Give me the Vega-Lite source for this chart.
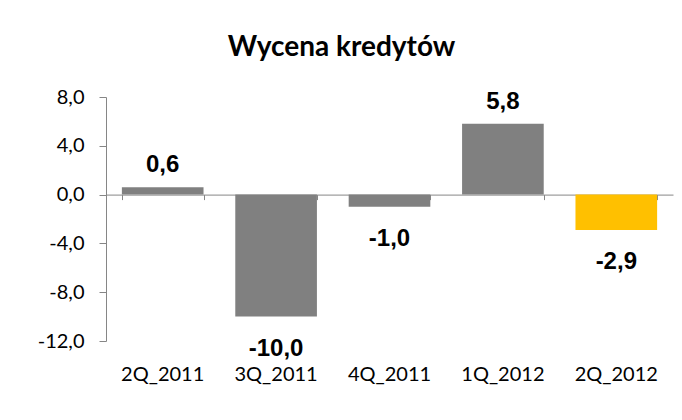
{
  "$schema": "https://vega.github.io/schema/vega-lite/v6.json",
  "width": 567,
  "height": 244,
  "autosize": {"type": "none"},
  "padding": {"left": 106, "top": 97, "right": 9, "bottom": 79},
  "background": "white",
  "title": {
    "text": "Wycena kredytów",
    "font": "Lato",
    "fontSize": 28,
    "fontWeight": "bold",
    "color": "#000000",
    "anchor": "middle",
    "frame": "group",
    "baseline": "alphabetic",
    "offset": 3,
    "dx": -48
  },
  "data": {
    "values": [
      {"q": "2Q_2011", "v": 0.6},
      {"q": "3Q_2011", "v": -10.0},
      {"q": "4Q_2011", "v": -1.0},
      {"q": "1Q_2012", "v": 5.8},
      {"q": "2Q_2012", "v": -2.9}
    ]
  },
  "layer": [
    {
      "mark": {"type": "bar"},
      "encoding": {
        "x": {
          "field": "q", "type": "nominal", "sort": null, "title": null,
          "scale": {"paddingInner": 0.28, "paddingOuter": 0.14},
          "axis": {
            "orient": "bottom", "domain": false, "ticks": false, "labelAngle": 0,
            "labelFont": "Lato", "labelFontSize": 20, "labelColor": "#000000",
            "labelPadding": 23
          }
        },
        "y": {
          "field": "v", "type": "quantitative", "title": null,
          "scale": {"domain": [-12, 8], "nice": false, "zero": false},
          "axis": {
            "values": [-12, -8, -4, 0, 4, 8], "format": ".1f", "grid": false,
            "domain": true, "domainColor": "#868686", "ticks": true, "tickSize": 7,
            "tickColor": "#868686", "labelFont": "Lato", "labelFontSize": 20,
            "labelColor": "#000000", "labelPadding": 15
          }
        },
        "color": {
          "condition": {"test": "datum.q === '2Q_2012'", "value": "#FFC000"},
          "value": "#808080"
        }
      }
    },
    {
      "transform": [{"filter": "datum.v >= 0"}],
      "mark": {"type": "text", "font": "Liberation Sans", "fontSize": 24, "fontWeight": "bold", "baseline": "alphabetic", "dy": -15, "color": "#000000"},
      "encoding": {
        "x": {
          "field": "q", "type": "nominal", "sort": null, "title": null,
          "axis": {
            "orient": "bottom", "labels": false, "domain": true, "ticks": true,
            "tickBand": "extent", "tickSize": 5, "tickColor": "#868686",
            "domainColor": "#868686", "offset": -146.4
          }
        },
        "y": {"field": "v", "type": "quantitative", "title": null},
        "text": {"field": "v", "type": "quantitative", "format": ".1f"}
      }
    },
    {
      "transform": [{"filter": "datum.v < 0"}],
      "mark": {"type": "text", "font": "Liberation Sans", "fontSize": 24, "fontWeight": "bold", "baseline": "alphabetic", "dy": 39, "color": "#000000"},
      "encoding": {
        "x": {"field": "q", "type": "nominal", "sort": null, "title": null, "axis": null},
        "y": {"field": "v", "type": "quantitative", "title": null},
        "text": {"field": "v", "type": "quantitative", "format": ".1f"}
      }
    }
  ],
  "resolve": {"axis": {"x": "independent"}},
  "config": {
    "view": {"stroke": null},
    "locale": {
      "number": {"decimal": ",", "thousands": " ", "grouping": [3], "currency": ["", " zł"], "minus": "-"}
    }
  }
}
